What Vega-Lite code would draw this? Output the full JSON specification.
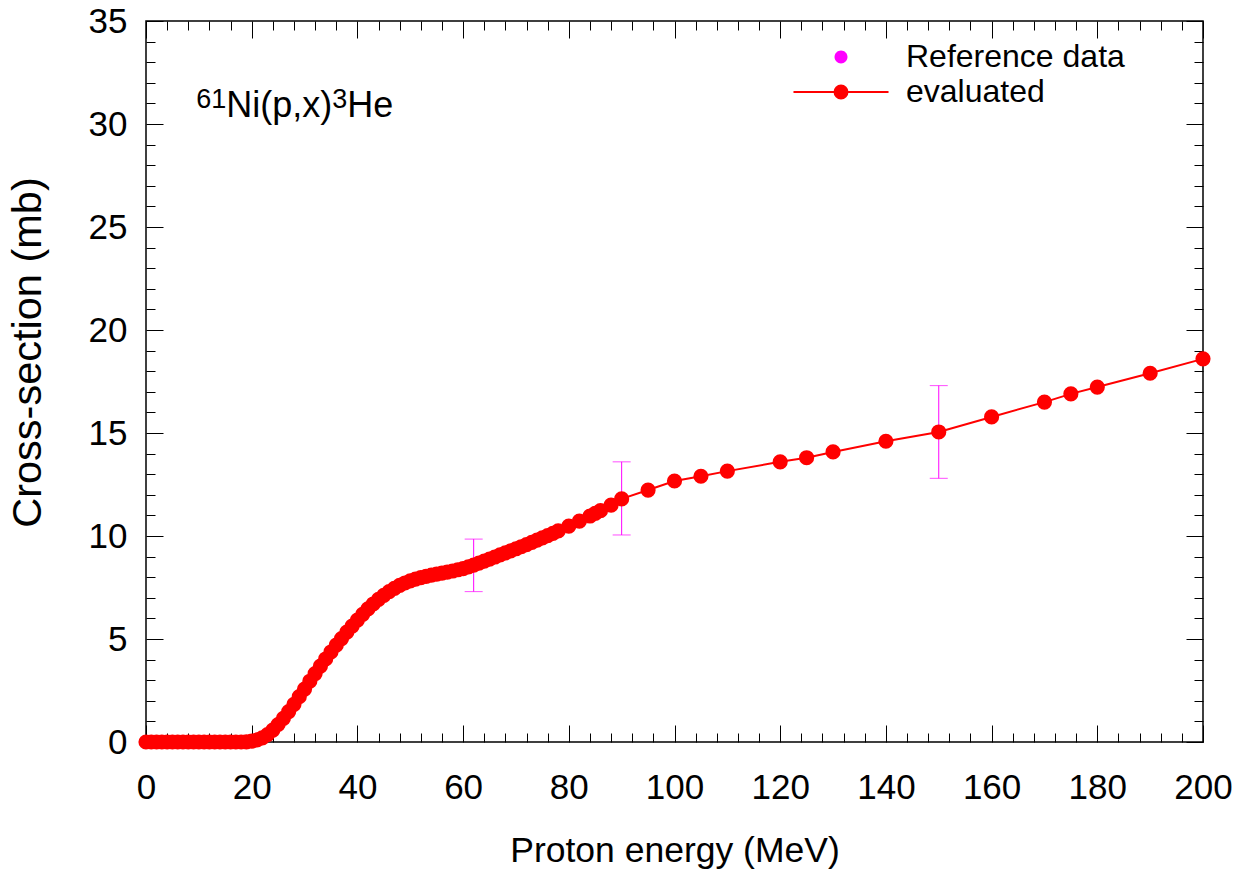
{
  "$schema": "https://vega.github.io/schema/vega-lite/v6.json",
  "width": 1057,
  "height": 721,
  "autosize": {"type": "none"},
  "padding": {"left": 146, "top": 21, "right": 49, "bottom": 136},
  "background": "white",
  "config": {
    "font": "Liberation Sans",
    "view": {"stroke": "#000", "strokeWidth": 1.5},
    "axis": {
      "domain": false, "grid": false, "tickColor": "#000", "tickWidth": 1,
      "labelColor": "#000", "titleColor": "#000", "labelFont": "Liberation Sans",
      "titleFont": "Liberation Sans", "labelFontSize": 35, "titleFontSize": 35.5,
      "titleFontWeight": "normal", "labelFlush": false, "labelOverlap": false, "labelBound": false
    }
  },
  "datasets": {
    "evaluated": [
      {"E": 0, "xs": 0, "series": "evaluated"}, {"E": 1, "xs": 0, "series": "evaluated"}, {"E": 2, "xs": 0, "series": "evaluated"},
      {"E": 3, "xs": 0, "series": "evaluated"}, {"E": 4, "xs": 0, "series": "evaluated"}, {"E": 5, "xs": 0, "series": "evaluated"},
      {"E": 6, "xs": 0, "series": "evaluated"}, {"E": 7, "xs": 0, "series": "evaluated"}, {"E": 8, "xs": 0, "series": "evaluated"},
      {"E": 9, "xs": 0, "series": "evaluated"}, {"E": 10, "xs": 0, "series": "evaluated"}, {"E": 11, "xs": 0, "series": "evaluated"},
      {"E": 12, "xs": 0, "series": "evaluated"}, {"E": 13, "xs": 0, "series": "evaluated"}, {"E": 14, "xs": 0, "series": "evaluated"},
      {"E": 15, "xs": 0, "series": "evaluated"}, {"E": 16, "xs": 0, "series": "evaluated"}, {"E": 17, "xs": 0, "series": "evaluated"},
      {"E": 18, "xs": 0, "series": "evaluated"}, {"E": 19, "xs": 0.01, "series": "evaluated"}, {"E": 20, "xs": 0.04, "series": "evaluated"},
      {"E": 21, "xs": 0.1, "series": "evaluated"}, {"E": 22, "xs": 0.2, "series": "evaluated"}, {"E": 23, "xs": 0.36, "series": "evaluated"},
      {"E": 24, "xs": 0.58, "series": "evaluated"}, {"E": 25, "xs": 0.85, "series": "evaluated"}, {"E": 26, "xs": 1.15, "series": "evaluated"},
      {"E": 27, "xs": 1.48, "series": "evaluated"}, {"E": 28, "xs": 1.83, "series": "evaluated"}, {"E": 29, "xs": 2.2, "series": "evaluated"},
      {"E": 30, "xs": 2.57, "series": "evaluated"}, {"E": 31, "xs": 2.95, "series": "evaluated"}, {"E": 32, "xs": 3.32, "series": "evaluated"},
      {"E": 33, "xs": 3.68, "series": "evaluated"}, {"E": 34, "xs": 4.03, "series": "evaluated"}, {"E": 35, "xs": 4.37, "series": "evaluated"},
      {"E": 36, "xs": 4.7, "series": "evaluated"}, {"E": 37, "xs": 5.02, "series": "evaluated"}, {"E": 38, "xs": 5.33, "series": "evaluated"},
      {"E": 39, "xs": 5.63, "series": "evaluated"}, {"E": 40, "xs": 5.92, "series": "evaluated"}, {"E": 41, "xs": 6.2, "series": "evaluated"},
      {"E": 42, "xs": 6.46, "series": "evaluated"}, {"E": 43, "xs": 6.7, "series": "evaluated"}, {"E": 44, "xs": 6.92, "series": "evaluated"},
      {"E": 45, "xs": 7.12, "series": "evaluated"}, {"E": 46, "xs": 7.3, "series": "evaluated"}, {"E": 47, "xs": 7.46, "series": "evaluated"},
      {"E": 48, "xs": 7.6, "series": "evaluated"}, {"E": 49, "xs": 7.72, "series": "evaluated"}, {"E": 50, "xs": 7.82, "series": "evaluated"},
      {"E": 51, "xs": 7.91, "series": "evaluated"}, {"E": 52, "xs": 7.98, "series": "evaluated"}, {"E": 53, "xs": 8.04, "series": "evaluated"},
      {"E": 54, "xs": 8.1, "series": "evaluated"}, {"E": 55, "xs": 8.15, "series": "evaluated"}, {"E": 56, "xs": 8.2, "series": "evaluated"},
      {"E": 57, "xs": 8.25, "series": "evaluated"}, {"E": 58, "xs": 8.3, "series": "evaluated"}, {"E": 59, "xs": 8.36, "series": "evaluated"},
      {"E": 60, "xs": 8.42, "series": "evaluated"}, {"E": 61, "xs": 8.5, "series": "evaluated"}, {"E": 62, "xs": 8.59, "series": "evaluated"},
      {"E": 63, "xs": 8.68, "series": "evaluated"}, {"E": 64, "xs": 8.78, "series": "evaluated"}, {"E": 65, "xs": 8.88, "series": "evaluated"},
      {"E": 66, "xs": 8.98, "series": "evaluated"}, {"E": 67, "xs": 9.08, "series": "evaluated"}, {"E": 68, "xs": 9.18, "series": "evaluated"},
      {"E": 69, "xs": 9.28, "series": "evaluated"}, {"E": 70, "xs": 9.38, "series": "evaluated"}, {"E": 71, "xs": 9.48, "series": "evaluated"},
      {"E": 72, "xs": 9.58, "series": "evaluated"}, {"E": 73, "xs": 9.69, "series": "evaluated"}, {"E": 74, "xs": 9.8, "series": "evaluated"},
      {"E": 75, "xs": 9.91, "series": "evaluated"}, {"E": 76, "xs": 10.02, "series": "evaluated"}, {"E": 77, "xs": 10.13, "series": "evaluated"},
      {"E": 78, "xs": 10.25, "series": "evaluated"}, {"E": 80, "xs": 10.48, "series": "evaluated"}, {"E": 82, "xs": 10.72, "series": "evaluated"},
      {"E": 84, "xs": 10.97, "series": "evaluated"}, {"E": 85, "xs": 11.1, "series": "evaluated"}, {"E": 86, "xs": 11.23, "series": "evaluated"},
      {"E": 88, "xs": 11.5, "series": "evaluated"}, {"E": 90, "xs": 11.8, "series": "evaluated"},
      {"E": 95, "xs": 12.23, "series": "evaluated"}, {"E": 100, "xs": 12.67, "series": "evaluated"}, {"E": 105, "xs": 12.9, "series": "evaluated"},
      {"E": 110, "xs": 13.15, "series": "evaluated"}, {"E": 120, "xs": 13.6, "series": "evaluated"}, {"E": 125, "xs": 13.8, "series": "evaluated"},
      {"E": 130, "xs": 14.08, "series": "evaluated"}, {"E": 140, "xs": 14.6, "series": "evaluated"}, {"E": 150, "xs": 15.05, "series": "evaluated"},
      {"E": 160, "xs": 15.78, "series": "evaluated"}, {"E": 170, "xs": 16.5, "series": "evaluated"}, {"E": 175, "xs": 16.9, "series": "evaluated"},
      {"E": 180, "xs": 17.23, "series": "evaluated"}, {"E": 190, "xs": 17.9, "series": "evaluated"}, {"E": 200, "xs": 18.6, "series": "evaluated"}
    ],
    "reference": [
      {"E": 62, "xs": 8.6, "lo": 7.3, "hi": 9.85, "series": "Reference data"},
      {"E": 90, "xs": 11.8, "lo": 10.05, "hi": 13.6, "series": "Reference data"},
      {"E": 150, "xs": 15.05, "lo": 12.8, "hi": 17.3, "series": "Reference data"}
    ]
  },
  "layer": [
    {
      "data": {"name": "reference"},
      "mark": {"type": "rule", "color": "#ff00ff", "strokeWidth": 1},
      "encoding": {
        "x": {"field": "E", "type": "quantitative", "scale": {"domain": [0, 200], "nice": false},
              "axis": {"orient": "top", "values": [0,20,40,60,80,100,120,140,160,180,200], "tickSize": -17, "labels": false, "title": null}},
        "y": {"field": "lo", "type": "quantitative", "scale": {"domain": [0, 35], "nice": false},
              "axis": {"orient": "right", "values": [0,5,10,15,20,25,30,35], "tickSize": -17, "labels": false, "title": null}},
        "y2": {"field": "hi"}
      }
    },
    {
      "data": {"name": "reference"},
      "mark": {"type": "tick", "orient": "horizontal", "color": "#ff00ff", "size": 18, "thickness": 1},
      "encoding": {
        "x": {"field": "E", "type": "quantitative", "scale": {"domain": [0, 200], "nice": false},
              "axis": {"orient": "top", "values": [4,8,12,16,24,28,32,36,44,48,52,56,64,68,72,76,84,88,92,96,104,108,112,116,124,128,132,136,144,148,152,156,164,168,172,176,184,188,192,196], "tickSize": -9, "labels": false, "title": null}},
        "y": {"field": "lo", "type": "quantitative", "scale": {"domain": [0, 35], "nice": false},
              "axis": {"orient": "right", "values": [1,2,3,4,6,7,8,9,11,12,13,14,16,17,18,19,21,22,23,24,26,27,28,29,31,32,33,34], "tickSize": -9, "labels": false, "title": null}}
      }
    },
    {
      "data": {"name": "reference"},
      "mark": {"type": "tick", "orient": "horizontal", "color": "#ff00ff", "size": 18, "thickness": 1},
      "encoding": {
        "x": {"field": "E", "type": "quantitative", "scale": {"domain": [0, 200], "nice": false},
              "axis": {"orient": "bottom", "values": [0,20,40,60,80,100,120,140,160,180,200], "tickSize": -17, "labels": false, "title": null}},
        "y": {"field": "hi", "type": "quantitative", "scale": {"domain": [0, 35], "nice": false},
              "axis": {"orient": "left", "values": [0,5,10,15,20,25,30,35], "tickSize": -17, "labels": false, "title": null}}
      }
    },
    {
      "data": {"name": "reference"},
      "mark": {"type": "point", "filled": true, "size": 110, "opacity": 1},
      "encoding": {
        "x": {"field": "E", "type": "quantitative", "scale": {"domain": [0, 200], "nice": false}, "axis": null},
        "y": {"field": "xs", "type": "quantitative", "scale": {"domain": [0, 35], "nice": false}, "axis": null},
        "color": {"field": "series", "type": "nominal",
          "scale": {"domain": ["Reference data", "evaluated"], "range": ["#ff00ff", "#ff0000"]},
          "legend": {"title": null, "orient": "none", "legendX": 679, "legendY": 20, "padding": 0,
            "labelFont": "Liberation Sans", "labelFontSize": 32, "labelColor": "#000", "labelOffset": 49, "labelLimit": 500,
            "symbolSize": 256, "symbolStrokeWidth": 2, "symbolOpacity": 1, "rowPadding": 3,
            "encode": {"symbols": {"update": {
              "shape": {"signal": "datum.value === 'evaluated' ? 'M-5.94,0H5.94M0.81,0A0.81,0.81,0,1,1,-0.81,0A0.81,0.81,0,1,1,0.81,0Z' : 'M0.81,0A0.81,0.81,0,1,1,-0.81,0A0.81,0.81,0,1,1,0.81,0Z'"},
              "stroke": {"signal": "datum.value === 'evaluated' ? '#ff0000' : 'transparent'"}
            }}}}
        }
      }
    },
    {
      "data": {"name": "evaluated"},
      "mark": {"type": "line", "color": "#ff0000", "strokeWidth": 2},
      "encoding": {
        "x": {"field": "E", "type": "quantitative", "scale": {"domain": [0, 200], "nice": false},
              "axis": {"orient": "bottom", "values": [4,8,12,16,24,28,32,36,44,48,52,56,64,68,72,76,84,88,92,96,104,108,112,116,124,128,132,136,144,148,152,156,164,168,172,176,184,188,192,196], "tickSize": -9, "labels": false, "title": null}},
        "y": {"field": "xs", "type": "quantitative", "scale": {"domain": [0, 35], "nice": false},
              "axis": {"orient": "left", "values": [1,2,3,4,6,7,8,9,11,12,13,14,16,17,18,19,21,22,23,24,26,27,28,29,31,32,33,34], "tickSize": -9, "labels": false, "title": null}}
      }
    },
    {
      "data": {"name": "evaluated"},
      "mark": {"type": "point", "filled": true, "size": 230, "opacity": 1},
      "encoding": {
        "x": {"field": "E", "type": "quantitative", "scale": {"domain": [0, 200], "nice": false},
              "axis": {"orient": "bottom", "values": [0,20,40,60,80,100,120,140,160,180,200], "ticks": false, "tickSize": 0, "labelPadding": 28,
                       "title": "Proton energy (MeV)", "titleY": 119, "titleBaseline": "alphabetic"}},
        "y": {"field": "xs", "type": "quantitative", "scale": {"domain": [0, 35], "nice": false},
              "axis": {"orient": "left", "values": [0,5,10,15,20,25,30,35], "ticks": false, "tickSize": 0, "labelPadding": 19,
                       "title": "Cross-section (mb)", "titleFontSize": 41.5, "titleX": -106, "titleY": 331, "titleBaseline": "alphabetic", "titleAngle": 270}},
        "color": {"field": "series", "type": "nominal",
          "scale": {"domain": ["Reference data", "evaluated"], "range": ["#ff00ff", "#ff0000"]},
          "legend": {"title": null, "orient": "none", "legendX": 679, "legendY": 20, "padding": 0,
            "labelFont": "Liberation Sans", "labelFontSize": 32, "labelColor": "#000", "labelOffset": 49, "labelLimit": 500,
            "symbolSize": 256, "symbolStrokeWidth": 2, "symbolOpacity": 1, "rowPadding": 3,
            "encode": {"symbols": {"update": {
              "shape": {"signal": "datum.value === 'evaluated' ? 'M-5.94,0H5.94M0.81,0A0.81,0.81,0,1,1,-0.81,0A0.81,0.81,0,1,1,0.81,0Z' : 'M0.81,0A0.81,0.81,0,1,1,-0.81,0A0.81,0.81,0,1,1,0.81,0Z'"},
              "stroke": {"signal": "datum.value === 'evaluated' ? '#ff0000' : 'transparent'"}
            }}}}
        }
      }
    },
    {
      "data": {"values": [{"part": "61"}]},
      "mark": {"type": "text", "font": "Liberation Sans", "fontSize": 27, "align": "left", "baseline": "alphabetic", "dy": -9, "color": "#000"},
      "encoding": {
        "text": {"field": "part"},
        "x": {"datum": 9.5, "type": "quantitative", "scale": {"domain": [0, 200], "nice": false}, "axis": null},
        "y": {"datum": 30.36, "type": "quantitative", "scale": {"domain": [0, 35], "nice": false}, "axis": null}
      }
    },
    {
      "data": {"values": [{"part": "Ni(p,x)"}]},
      "mark": {"type": "text", "font": "Liberation Sans", "fontSize": 36, "align": "left", "baseline": "alphabetic", "dx": 30, "color": "#000"},
      "encoding": {
        "text": {"field": "part"},
        "x": {"datum": 9.5, "type": "quantitative", "scale": {"domain": [0, 200], "nice": false}, "axis": null},
        "y": {"datum": 30.36, "type": "quantitative", "scale": {"domain": [0, 35], "nice": false}, "axis": null}
      }
    },
    {
      "data": {"values": [{"part": "3"}]},
      "mark": {"type": "text", "font": "Liberation Sans", "fontSize": 27, "align": "left", "baseline": "alphabetic", "dx": 136, "dy": -9, "color": "#000"},
      "encoding": {
        "text": {"field": "part"},
        "x": {"datum": 9.5, "type": "quantitative", "scale": {"domain": [0, 200], "nice": false}, "axis": null},
        "y": {"datum": 30.36, "type": "quantitative", "scale": {"domain": [0, 35], "nice": false}, "axis": null}
      }
    },
    {
      "data": {"values": [{"part": "He"}]},
      "mark": {"type": "text", "font": "Liberation Sans", "fontSize": 36, "align": "left", "baseline": "alphabetic", "dx": 151, "color": "#000"},
      "encoding": {
        "text": {"field": "part"},
        "x": {"datum": 9.5, "type": "quantitative", "scale": {"domain": [0, 200], "nice": false}, "axis": null},
        "y": {"datum": 30.36, "type": "quantitative", "scale": {"domain": [0, 35], "nice": false}, "axis": null}
      }
    }
  ],
  "resolve": {"axis": {"x": "independent", "y": "independent"}}
}
